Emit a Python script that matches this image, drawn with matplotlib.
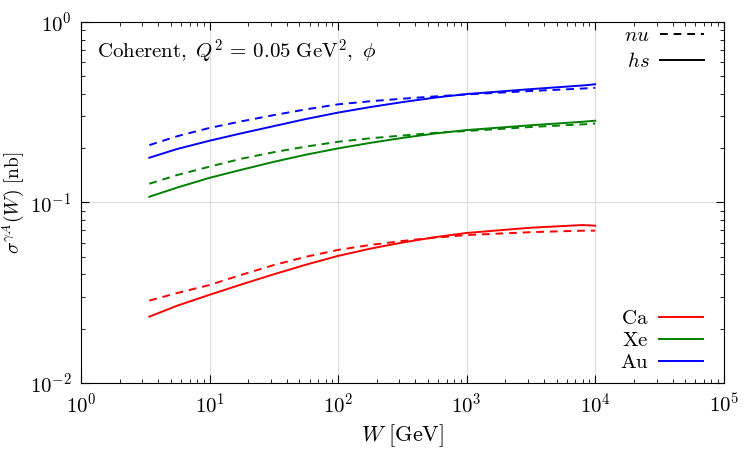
import numpy as np
import matplotlib
matplotlib.use('Agg')
import matplotlib.pyplot as plt
from matplotlib.lines import Line2D

plt.rcParams['mathtext.fontset'] = 'cm'
plt.rcParams['font.family'] = 'serif'
plt.rcParams['font.serif'] = ['cmr10', 'DejaVu Serif']
plt.rcParams['axes.formatter.use_mathtext'] = True

# W in GeV
W = [3.4, 5.6, 10, 17.8, 31.6, 56, 100, 178, 316, 562, 1000, 3162, 7943, 10000]

# sigma in nb, hs = solid, nu = dashed
ca_hs = [0.0233, 0.0268, 0.0308, 0.0352, 0.0400, 0.0452, 0.0506, 0.0555, 0.0600, 0.0642, 0.0678, 0.0725, 0.0750, 0.0744]
ca_nu = [0.0286, 0.0315, 0.0349, 0.0398, 0.0450, 0.0500, 0.0546, 0.0582, 0.0612, 0.0638, 0.0660, 0.0685, 0.0698, 0.0698]
xe_hs = [0.1076, 0.121, 0.137, 0.152, 0.168, 0.184, 0.1995, 0.214, 0.228, 0.241, 0.252, 0.268, 0.280, 0.284]
xe_nu = [0.127, 0.142, 0.158, 0.175, 0.190, 0.204, 0.217, 0.227, 0.235, 0.243, 0.249, 0.262, 0.271, 0.274]
au_hs = [0.177, 0.198, 0.220, 0.242, 0.265, 0.290, 0.315, 0.338, 0.360, 0.381, 0.399, 0.425, 0.445, 0.452]
au_nu = [0.208, 0.233, 0.259, 0.282, 0.305, 0.328, 0.350, 0.364, 0.376, 0.387, 0.397, 0.415, 0.428, 0.432]

nuclei = ['Ca', 'Xe', 'Au']
colors = ['red', 'green', 'blue']

fig = plt.figure(figsize=(7.5, 4.5), dpi=100)
ax = fig.add_axes([0.108, 0.149, 0.857, 0.802])

dash = (0, (4, 3))
lw = 1.4
for name, col, hs, nu in zip(nuclei, colors, [ca_hs, xe_hs, au_hs], [ca_nu, xe_nu, au_nu]):
    ax.plot(W, hs, color=col, lw=lw)
    ax.plot(W, nu, color=col, lw=lw, linestyle=dash)

ax.set_xscale('log')
ax.set_yscale('log')
ax.set_xlim(1, 1e5)
ax.set_ylim(1e-2, 1)
ax.grid(True, which='major', color='#dddddd', lw=0.8)
ax.tick_params(which='both', direction='in', top=True, right=True, labelsize=15)
ax.tick_params(which='major', length=6, pad=7)
ax.tick_params(which='minor', length=3)

ax.set_xlabel(r'$W\ [\mathrm{GeV}]$', fontsize=16)
ax.set_ylabel(r'$\sigma^{\gamma A}(W)\ [\mathrm{nb}]$', fontsize=14)
ax.yaxis.set_label_coords(-0.086, 0.5)

ax.text(0.025, 0.955, r'$\mathrm{Coherent,}\ Q^2\, =\, 0.05\ \mathrm{GeV}^2,\ \phi$',
        transform=ax.transAxes, fontsize=15, va='top', ha='left')

style_handles = [Line2D([], [], color='black', lw=lw, linestyle=dash),
                 Line2D([], [], color='black', lw=lw)]
leg1 = ax.legend(style_handles, [r'$nu$', r'$hs$'], loc='upper right', frameon=False,
                 bbox_to_anchor=(0.992, 1.028),
                 markerfirst=False, fontsize=15, handlelength=2.1, handletextpad=0.5,
                 labelspacing=0.35, borderaxespad=0.3)
ax.add_artist(leg1)

nuc_handles = [Line2D([], [], color=c, lw=lw) for c in colors]
ax.legend(nuc_handles, [r'$\mathrm{%s}$' % n for n in nuclei], loc='lower right',
          bbox_to_anchor=(1.0, -0.028),
          frameon=False, markerfirst=False, fontsize=15, handlelength=2.1,
          handletextpad=0.5, labelspacing=0.17, borderaxespad=0.6)

fig.savefig('out.png', dpi=100)
